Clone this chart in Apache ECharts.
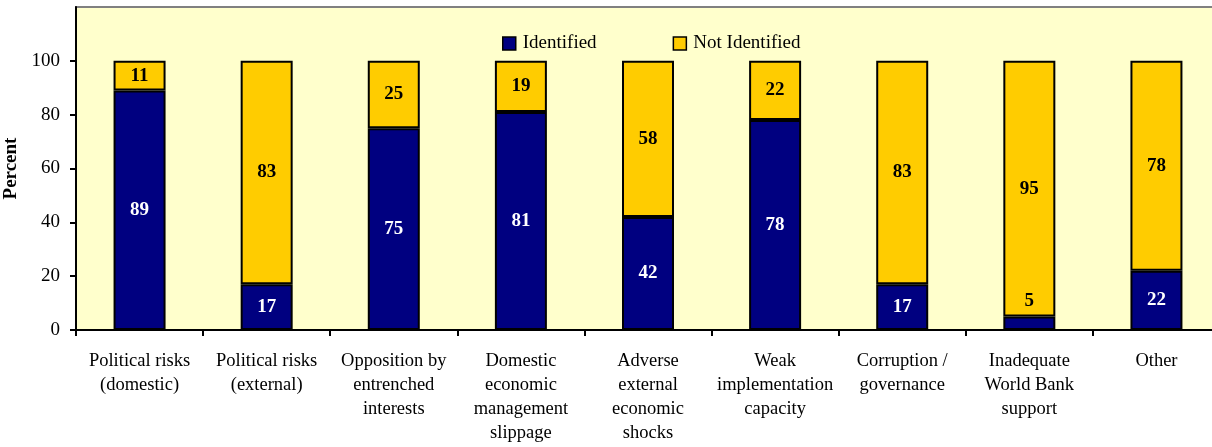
<!DOCTYPE html>
<html>
<head>
<meta charset="utf-8">
<script src="https://cdn.jsdelivr.net/npm/echarts@6/dist/echarts.min.js"></script>
<style>
  html, body { margin: 0; padding: 0; background: #fff; }
  #chart { width: 1212px; height: 447px; }
</style>
</head>
<body>
<div id="chart"></div>
<script>
// categories and values
const categories = [
  'Political risks\n(domestic)',
  'Political risks\n(external)',
  'Opposition by\nentrenched\ninterests',
  'Domestic\neconomic\nmanagement\nslippage',
  'Adverse\nexternal\neconomic\nshocks',
  'Weak\nimplementation\ncapacity',
  'Corruption /\ngovernance',
  'Inadequate\nWorld Bank\nsupport',
  'Other'
]
const identified = [89, 17, 75, 81, 42, 78, 17, 5, 22]
const notIdentified = [11, 83, 25, 19, 58, 22, 83, 95, 78]
const yTicks = [0, 20, 40, 60, 80, 100]

const serif = '"Liberation Serif", "Times New Roman", serif'

const chart = echarts.init(document.getElementById('chart'))

// small segments can't hold the label, put it above instead
const identifiedData = identified.map(function (v) {
  if (v < 10) {
    return { value: v, label: { position: 'top', distance: 6, color: '#000' } }
  }
  return v
})

const option = {
  animation: false,
  textStyle: { fontFamily: serif },
  grid: {
    left: 76,
    top: 7,
    width: 1144,
    height: 323,
    outerBoundsMode: 'none',
    show: true,
    backgroundColor: '#FFFFCC',
    borderColor: '#808080',
    borderWidth: 2
  },
  legend: {
    left: 497,
    top: 29,
    itemWidth: 13,
    itemHeight: 13,
    itemGap: 76,
    textStyle: { fontFamily: serif, fontSize: 19, color: '#000', padding: [0, 0, 0, 2] },
    data: [
      { name: 'Identified', icon: 'rect', itemStyle: { borderColor: '#000', borderWidth: 1.5 } },
      { name: 'Not Identified', icon: 'rect', itemStyle: { borderColor: '#000', borderWidth: 1.5 } }
    ]
  },
  xAxis: {
    type: 'category',
    data: categories,
    axisLine: { lineStyle: { color: '#000', width: 2 } },
    axisTick: { show: true, length: 6, lineStyle: { color: '#000', width: 2 } },
    axisLabel: {
      color: '#000',
      fontFamily: serif,
      fontSize: 18.5,
      lineHeight: 24,
      margin: 19,
      interval: 0
    }
  },
  yAxis: {
    type: 'value',
    min: 0,
    max: 120,
    interval: 20,
    name: 'Percent',
    nameLocation: 'middle',
    nameGap: 48,
    nameTextStyle: { fontFamily: serif, fontSize: 19, fontWeight: 'bold', color: '#000' },
    axisLine: { show: true, lineStyle: { color: '#000', width: 2 } },
    axisTick: { show: true, length: 6, customValues: yTicks, lineStyle: { color: '#000', width: 2 } },
    splitLine: { show: false },
    axisLabel: {
      color: '#000',
      fontFamily: serif,
      fontSize: 19,
      margin: 16,
      customValues: yTicks
    }
  },
  series: [
    {
      name: 'Identified',
      type: 'bar',
      stack: 'total',
      barWidth: 52,
      data: identifiedData,
      itemStyle: { color: '#000080', borderColor: '#000', borderWidth: 2 },
      label: {
        show: true,
        position: 'inside',
        color: '#fff',
        fontFamily: serif,
        fontSize: 19,
        fontWeight: 'bold'
      }
    },
    {
      name: 'Not Identified',
      type: 'bar',
      stack: 'total',
      barWidth: 52,
      data: notIdentified,
      itemStyle: { color: '#FFCC00', borderColor: '#000', borderWidth: 2 },
      label: {
        show: true,
        position: 'inside',
        color: '#000',
        fontFamily: serif,
        fontSize: 19,
        fontWeight: 'bold'
      }
    }
  ]
}

chart.setOption(option)
</script>
</body>
</html>
